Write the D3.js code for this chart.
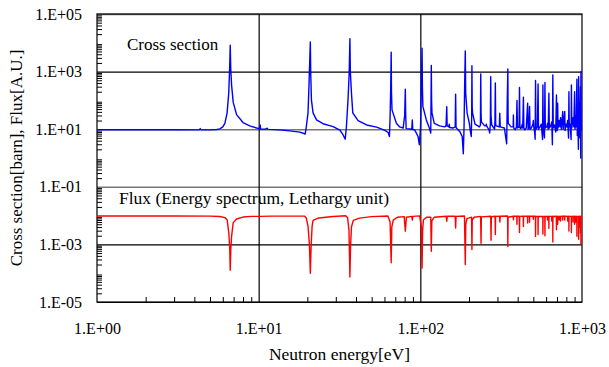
<!DOCTYPE html>
<html>
<head>
<meta charset="utf-8">
<script src="https://cdn.jsdelivr.net/npm/d3@7"></script>
<style>
html, body { margin: 0; padding: 0; background: #fff; }
svg { display: block; }
text { font-family: "Liberation Serif", "Times New Roman", serif; fill: #000; }
</style>
</head>
<body>
<svg id="chart" width="609" height="367"></svg>
<script>
// ---- data (energy eV, value) ----
const xTickValues = [1, 10, 100, 1000];
const xTickLabels = ["1.E+00", "1.E+01", "1.E+02", "1.E+03"];
const yTickValues = [1e5, 1e3, 1e1, 1e-1, 1e-3, 1e-5];
const yTickLabels = ["1.E+05", "1.E+03", "1.E+01", "1.E-01", "1.E-03", "1.E-05"];

const crossSection = [
  [1.00, 9.6], [1.5, 9.6], [2.0, 9.6], [3.0, 9.55], [4.0, 9.5], [4.30, 9.5], [4.35, 10.5], [4.40, 9.5],
  [5.0, 9.5], [5.5, 9.8], [5.75, 10.3], [6.0, 12], [6.18, 16], [6.38, 37], [6.53, 180], [6.62, 1500],
  [6.67, 8200], [6.72, 1200], [6.80, 340], [6.96, 85], [7.3, 32], [8.0, 17], [8.8, 13], [9.7, 11],
  [10.15, 10.5], [10.22, 14], [10.28, 10.2], [11.0, 10.0], [11.3, 10.8], [11.4, 9.9], [12.5, 9.7],
  [14.0, 9.3], [16.0, 8.6], [18.0, 7.9], [19.4, 6.8], [19.7, 12], [20.2, 37], [20.5, 400],
  [20.87, 10700], [21.0, 800], [21.2, 105], [21.7, 37], [22.8, 21], [25.0, 15.5], [28.9, 12.3],
  [31.8, 9.3], [33.3, 6.3], [34.3, 4.5], [34.9, 12.3], [35.7, 105], [36.3, 900], [36.68, 14000],
  [36.9, 1000], [37.5, 180], [38.2, 37], [41.2, 20], [46.5, 14], [53.6, 11.8], [60.0, 9.3],
  [63.2, 7.7], [64.4, 5.6], [65.0, 27], [65.6, 300], [66.03, 4700], [66.3, 200], [66.8, 47],
  [71.1, 16], [74.5, 12], [78.3, 11], [80.0, 30], [80.75, 245], [81.2, 30], [81.7, 10.5],
  [88.5, 10], [89.2, 21], [89.8, 9.8], [92.3, 9.5], [96.8, 5.6], [98.6, 2.9], [100.3, 12],
  [101.5, 420], [102.5, 6500], [103.0, 300], [103.7, 62], [108.9, 21], [113.1, 12], [116.0, 7.4],
  [116.5, 105], [116.9, 1650], [117.4, 100], [118.0, 37], [122, 16], [131.5, 13], [141.4, 12],
  [144.2, 13], [145.7, 61], [146.5, 13], [150.2, 12], [151, 15], [151.8, 11.5], [159, 11],
  [164.3, 12], [165.3, 165], [166.3, 12], [167, 11], [175.2, 8.4], [181.6, 5.6], [184.4, 1.4],
  [186.4, 12], [188.1, 400], [189.7, 5200], [190.8, 180], [194.6, 37], [201, 16], [204, 8.4],
  [206.6, 5.6], [207.8, 30], [208.5, 1600], [209.3, 60], [210.4, 37], [217.9, 15], [232, 12],
  [235.4, 14], [236.4, 830], [237.4, 40], [238.5, 18], [250, 13], [255, 13], [256, 15], [257, 13],
  [266, 9.5], [268.5, 7.4], [271, 15], [272.5, 670], [273.7, 30], [276.6, 14], [288, 10],
  [289.5, 20], [291, 400], [292.5, 15], [295, 13], [308, 12], [310, 36], [312, 12], [331, 11],
  [342, 3.1], [345, 100], [347.8, 1240], [349, 30], [350, 16], [364, 12], [375, 12], [376.5, 31],
  [378, 11], [387, 9.5], [393, 12], [396, 100], [399, 11], [408, 12], [410.5, 280], [413, 11],
  [419, 10.5], [427, 15], [430, 11], [434, 130], [437, 11], [443, 9.5], [452, 11], [461, 80],
  [464, 10], [470, 12], [474, 62], [477, 10], [486, 11], [497, 15], [500, 20], [503, 12], [509, 8],
  [513, 4.5], [516, 490], [519, 10], [530, 12], [535, 370], [538, 10], [550, 12], [560, 15],
  [570, 4.4], [573, 345], [576, 11], [586, 5], [590, 420], [593, 11], [605, 12], [612, 16],
  [618, 10], [624, 178], [628, 11], [640, 13], [650, 18], [656, 2.9], [660, 770], [664, 11],
  [675, 14], [688, 8], [695, 155], [699, 10], [702, 9], [707, 80], [711, 11], [722, 20], [730, 12],
  [737, 25], [745, 10], [760, 41], [765, 10], [782, 41], [786, 9], [795, 15], [805, 12], [815, 20],
  [826, 4.9], [830, 200], [834, 12], [845, 15], [856, 4.4], [860, 345], [865, 11], [880, 25],
  [890, 12], [900, 200], [905, 10], [915, 30], [920, 12], [930, 540], [935, 6], [945, 12],
  [950, 2], [953, 670], [958, 9], [965, 80], [970, 5], [978, 300], [982, 1.0], [985, 1000],
  [990, 10], [1000, 10]
];

const flux = [
  [1.0, 0.0097], [3.0, 0.0097], [5.0, 0.0096], [5.75, 0.0093], [6.18, 0.0085], [6.38, 0.0072],
  [6.53, 0.0026], [6.62, 0.0008], [6.67, 0.000126], [6.72, 0.0006], [6.80, 0.0019], [6.96, 0.0057],
  [7.3, 0.0076], [8.0, 0.0089], [9.0, 0.0094], [10.22, 0.0094], [12, 0.0096], [19.2, 0.0096],
  [19.7, 0.0083], [20.2, 0.0042], [20.6, 0.001], [20.87, 0.0001], [21.1, 0.0008], [21.4, 0.0042],
  [21.7, 0.0068], [23.5, 0.0083], [28.9, 0.0093], [34.5, 0.0099], [35.5, 0.0085], [36.2, 0.003],
  [36.68, 0.000074], [37.0, 0.0008], [37.5, 0.004], [38.5, 0.0068], [42, 0.0082], [50, 0.0092],
  [63, 0.0097], [65.0, 0.006], [66.03, 0.00023], [66.6, 0.004], [68, 0.007], [72, 0.0088],
  [79.5, 0.0092], [80.75, 0.0029], [82, 0.0088], [88.6, 0.0094], [89.2, 0.007], [89.8, 0.0094],
  [99, 0.0098], [101.5, 0.004], [102.5, 0.00015], [103.3, 0.003], [104.5, 0.0072], [110, 0.0088],
  [116.0, 0.0088], [116.9, 0.00058], [117.8, 0.0065], [122, 0.0088], [144.5, 0.0095],
  [145.7, 0.0064], [146.8, 0.0095], [164.3, 0.0095], [165.3, 0.0037], [166.3, 0.0094],
  [187.5, 0.0097], [189.7, 0.0002], [191, 0.005], [194, 0.0078], [207.5, 0.0088], [208.5, 0.00066],
  [209.5, 0.007], [215, 0.0088], [236, 0.0094], [237.4, 0.0011], [238.5, 0.009], [272.5, 0.0095],
  [273.7, 0.0014], [275, 0.0092], [290, 0.0095], [291, 0.0022], [292, 0.0094], [309, 0.0095],
  [310.5, 0.006], [312, 0.0095], [346.5, 0.0097], [347.8, 0.00085], [349, 0.0088], [375.5, 0.0095],
  [376.5, 0.0072], [377.5, 0.0095], [395, 0.0095], [396, 0.005], [397, 0.0095], [409, 0.0095],
  [410.5, 0.0026], [412, 0.0094], [433, 0.0095], [434, 0.0042], [435, 0.0095], [460, 0.0095],
  [461, 0.0055], [462, 0.0095], [473, 0.0095], [474, 0.0059], [475, 0.0095], [499, 0.0095],
  [500, 0.0075], [501, 0.0095], [515, 0.0095], [516, 0.0019], [517, 0.0093], [534, 0.0094],
  [535, 0.0022], [536, 0.0093], [572, 0.0094], [573, 0.0023], [574, 0.0093], [589, 0.0094],
  [590, 0.002], [591, 0.0093], [611, 0.0094], [612, 0.007], [613, 0.0094], [623, 0.0094],
  [624, 0.0036], [625, 0.0094], [649, 0.0094], [650, 0.0065], [651, 0.0094], [659, 0.0095],
  [660, 0.0012], [661, 0.0093], [694, 0.0095], [695, 0.0032], [696, 0.0094], [706, 0.0094],
  [707, 0.005], [708, 0.0094], [721, 0.0094], [722, 0.007], [723, 0.0094], [736, 0.0094],
  [737, 0.0065], [738, 0.0094], [759, 0.0095], [760, 0.007], [761, 0.0095], [781, 0.0095],
  [782, 0.007], [783, 0.0095], [814, 0.0094], [815, 0.0065], [816, 0.0094], [829, 0.0095],
  [830, 0.0029], [831, 0.0094], [859, 0.0094], [860, 0.0026], [861, 0.0094], [879, 0.0094],
  [880, 0.006], [881, 0.0094], [899, 0.0095], [900, 0.005], [901, 0.0094], [914, 0.0094],
  [915, 0.006], [916, 0.0094], [929, 0.0094], [930, 0.0019], [931, 0.0094], [952, 0.0094],
  [953, 0.0015], [954, 0.0094], [964, 0.0094], [965, 0.004], [966, 0.0094], [977, 0.0094],
  [978, 0.0025], [979, 0.0094], [984, 0.0094], [985, 0.001], [986, 0.0094], [1000, 0.0095]
];

const xTitle = "Neutron energy[eV]";
const yTitle = "Cross section[barn], Flux[A.U.]";
const csLabel = "Cross section";
const fluxLabel = "Flux (Energy spectrum, Lethargy unit)";

// ---- layout ----
const margin = { left: 97, right: 27, top: 14, bottom: 65 };
const W = 609, H = 367;
const x0 = margin.left, x1 = W - margin.right, y0 = margin.top, y1 = H - margin.bottom;
const FONT = "'Liberation Serif', 'Times New Roman', serif";

const svg = d3.select("#chart");
const x = d3.scaleLog().domain([1, 1000]).range([x0, x1]);
const y = d3.scaleLog().domain([1e-5, 1e5]).range([y1, y0]);

// clip
svg.append("defs").append("clipPath").attr("id", "clip")
  .append("rect").attr("x", x0).attr("y", y0).attr("width", x1 - x0).attr("height", y1 - y0);

// minor ticks (inside)
const minorY = [];
for (let p = -5; p < 5; p++) for (let m = 2; m <= 9; m++) minorY.push(m * Math.pow(10, p));
const minorX = [];
for (let p = 0; p < 3; p++) for (let m = 2; m <= 9; m++) minorX.push(m * Math.pow(10, p));

svg.append("g").attr("transform", `translate(${x0},0)`)
  .call(d3.axisRight(y).tickValues(minorY).tickSize(5).tickFormat(""))
  .call(g => g.select(".domain").remove())
  .call(g => g.selectAll("line").attr("stroke", "#000"));

svg.append("g").attr("transform", `translate(0,${y1})`)
  .call(d3.axisTop(x).tickValues(minorX).tickSize(5).tickFormat(""))
  .call(g => g.select(".domain").remove())
  .call(g => g.selectAll("line").attr("stroke", "#000"));

// horizontal gridlines
const grayY = [1e5, 1e1, 1e-1];
svg.append("g").attr("transform", `translate(${x0},0)`)
  .call(d3.axisRight(y).tickValues(yTickValues).tickSize(x1 - x0).tickFormat(""))
  .call(g => g.select(".domain").remove())
  .call(g => g.selectAll(".tick line")
    .attr("stroke", d => grayY.includes(d) ? "#777" : "#000")
    .attr("stroke-width", d => grayY.includes(d) ? 1.6 : 1.2));

// vertical gridlines
svg.append("g").attr("transform", `translate(0,${y1})`)
  .call(d3.axisTop(x).tickValues([10, 100]).tickSize(y1 - y0).tickFormat(""))
  .call(g => g.select(".domain").remove())
  .call(g => g.selectAll(".tick line").attr("stroke", "#000").attr("stroke-width", 1.2));

// frame
svg.append("rect").attr("x", x0).attr("y", y0).attr("width", x1 - x0).attr("height", y1 - y0)
  .attr("fill", "none").attr("stroke", "#000").attr("stroke-width", 1.2);

// tick labels
svg.append("g").attr("transform", `translate(${x0},0)`)
  .attr("font-family", FONT).attr("font-size", 16)
  .call(d3.axisLeft(y).tickValues(yTickValues).tickSize(0).tickPadding(15)
    .tickFormat((d, i) => yTickLabels[i]))
  .call(g => g.select(".domain").remove())
  .call(g => g.attr("font-family", FONT).attr("font-size", 16))
  .call(g => g.selectAll("text").style("font-family", FONT).style("font-size", "16px").attr("fill", "#000"));

svg.append("g").attr("transform", `translate(0,${y1})`)
  .call(d3.axisBottom(x).tickValues(xTickValues).tickSize(0).tickPadding(21)
    .tickFormat((d, i) => xTickLabels[i]))
  .call(g => g.select(".domain").remove())
  .call(g => g.attr("font-family", FONT).attr("font-size", 16))
  .call(g => g.selectAll("text").style("font-family", FONT).style("font-size", "16px").attr("fill", "#000"));

// data lines
const line = d3.line().x(d => x(d[0])).y(d => y(d[1]));
const plot = svg.append("g").attr("clip-path", "url(#clip)");
plot.append("path").datum(flux).attr("d", line)
  .attr("fill", "none").attr("stroke", "#ff0000").attr("stroke-width", 1.4).attr("stroke-linejoin", "round");
plot.append("path").datum(crossSection).attr("d", line)
  .attr("fill", "none").attr("stroke", "#0000ff").attr("stroke-width", 1.4).attr("stroke-linejoin", "round");

// annotations
svg.append("text").attr("x", 127).attr("y", 50).style("font-family", FONT).style("font-size", "17px").text(csLabel);
svg.append("text").attr("x", 119).attr("y", 204).style("font-family", FONT).style("font-size", "17.5px").text(fluxLabel);

// axis titles
svg.append("text").attr("x", (x0 + x1) / 2).attr("y", 360).attr("text-anchor", "middle")
  .style("font-family", FONT).style("font-size", "17.5px").text(xTitle);
svg.append("text").attr("transform", `translate(22,${(y0 + y1) / 2}) rotate(-90)`)
  .attr("text-anchor", "middle").style("font-family", FONT).style("font-size", "17px").text(yTitle);
</script>
</body>
</html>
